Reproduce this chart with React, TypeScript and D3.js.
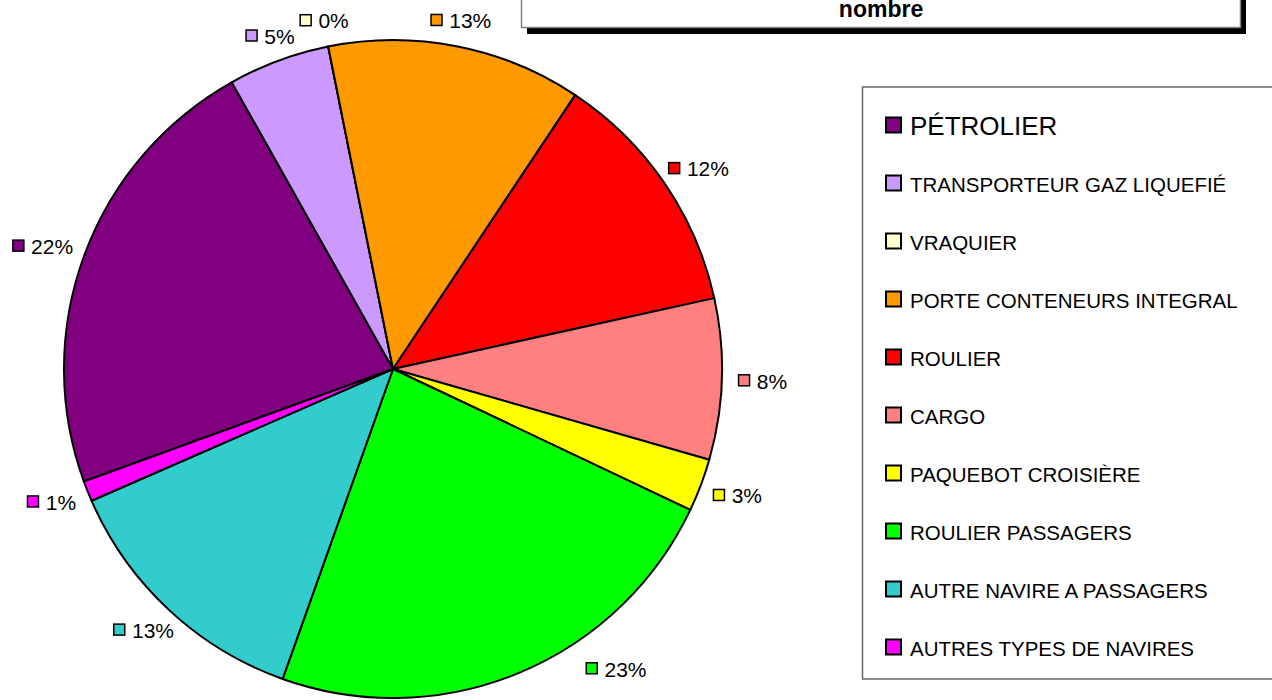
import * as d3 from 'd3'
import React, { useRef, useEffect } from 'react'

// ship types, share of calls (nombre)
const categories = [
  'PÉTROLIER',
  'TRANSPORTEUR GAZ LIQUEFIÉ',
  'VRAQUIER',
  'PORTE CONTENEURS INTEGRAL',
  'ROULIER',
  'CARGO',
  'PAQUEBOT CROISIÈRE',
  'ROULIER PASSAGERS',
  'AUTRE NAVIRE A PASSAGERS',
  'AUTRES TYPES DE NAVIRES',
]
const values = [22.4, 5.0, 0, 12.5, 12.2, 7.9, 2.6, 23.4, 13.0, 1.0]
const colors = [
  '#800080', '#CC99FF', '#FFFFCC', '#FF9900', '#FF0000',
  '#FF8080', '#FFFF00', '#00FF00', '#33CCCC', '#FF00FF',
]
const title = 'nombre'

const W = 1272
const H = 700
const FONT = '"Liberation Sans", Arial, sans-serif'

const App = () => {
  const ref = useRef<SVGSVGElement | null>(null)

  useEffect(() => {
    const svg = d3.select(ref.current)
    svg.selectAll('*').remove()

    const cx = 393
    const cy = 369
    const radius = 329
    const anchorRadius = 345 // where the label box touches
    const start = (250 * Math.PI) / 180
    const total = d3.sum(values)

    const pie = d3.pie<number>().sort(null).value(d => d)
      .startAngle(start).endAngle(start + 2 * Math.PI)
    const arcs = pie(values)
    const arc: any = d3.arc().innerRadius(0).outerRadius(radius)

    const g = svg.append('g').attr('transform', `translate(${cx},${cy})`)
    g.selectAll('path')
      .data(arcs)
      .enter().append('path')
      .attr('d', arc)
      .attr('fill', (d, i) => colors[i])
      .attr('stroke', '#000')
      .attr('stroke-width', 2)
      .attr('stroke-linejoin', 'round')

    // percentage labels with a little colour key
    arcs.forEach((a, i) => {
      const mid = (a.startAngle + a.endAngle) / 2
      const s = Math.sin(mid)
      const c = Math.cos(mid)
      const lg = svg.append('g')
      const txt = lg.append('text')
        .attr('font-family', FONT)
        .attr('font-size', 21)
        .attr('dominant-baseline', 'central')
        .attr('fill', '#000')
        .text(Math.round((values[i] / total) * 100) + '%')
      const tw = (txt.node() as SVGTextElement).getComputedTextLength()
      const bw = 12 + 7 + tw
      const bh = 22
      let lx = cx + anchorRadius * s + (bw / 2) * s * Math.abs(s)
      let ly = cy - anchorRadius * c - (bh / 2) * c
      if (ly < 17) ly = 17
      if (ly > 668) {
        // slide back up along the circle to stay inside the picture
        ly = 668
        const R = anchorRadius + 28
        const dy = ly - cy
        lx = cx + Math.sign(s) * Math.sqrt(R * R - dy * dy)
      }
      const x0 = lx - bw / 2
      lg.insert('rect', 'text')
        .attr('x', x0 + 0.75)
        .attr('y', ly - 6 + 0.75)
        .attr('width', 11)
        .attr('height', 11)
        .attr('fill', colors[i])
        .attr('stroke', '#000')
        .attr('stroke-width', 1.5)
      txt.attr('x', x0 + 19).attr('y', ly + 1)
    })

    // title box with shadow (top clipped)
    svg.append('rect')
      .attr('x', 527).attr('y', -20)
      .attr('width', 719).attr('height', 54)
      .attr('fill', '#000')
    svg.append('rect')
      .attr('x', 521.5).attr('y', -20)
      .attr('width', 719).attr('height', 47.5)
      .attr('fill', '#fff')
      .attr('stroke', '#808080')
      .attr('stroke-width', 1.5)
    svg.append('text')
      .attr('x', 881)
      .attr('y', 17)
      .attr('text-anchor', 'middle')
      .attr('font-family', FONT)
      .attr('font-weight', 'bold')
      .attr('font-size', 23)
      .text(title)

    // legend
    const legendTop = 87
    const legendBottom = 679
    svg.append('rect')
      .attr('x', 862.5).attr('y', legendTop)
      .attr('width', 420).attr('height', legendBottom - legendTop)
      .attr('fill', '#fff')
      .attr('stroke', '#666')
      .attr('stroke-width', 1.5)
    const rowY = d3.scalePoint<string>().domain(categories).range([125, 647])
    categories.forEach((c, i) => {
      const y = rowY(c) as number
      svg.append('rect')
        .attr('x', 886).attr('y', y - 7.5)
        .attr('width', 15).attr('height', 15)
        .attr('fill', colors[i])
        .attr('stroke', '#000')
        .attr('stroke-width', 2)
      svg.append('text')
        .attr('x', 910)
        .attr('y', y + 1)
        .attr('dominant-baseline', 'central')
        .attr('font-family', FONT)
        .attr('font-size', i === 0 ? 26 : 20.5)
        .text(c)
    })
  }, [])

  return (
    <svg ref={ref} width={W} height={H}
      style={{ position: 'absolute', left: 0, top: 0, background: '#fff' }} />
  )
}

export default App
